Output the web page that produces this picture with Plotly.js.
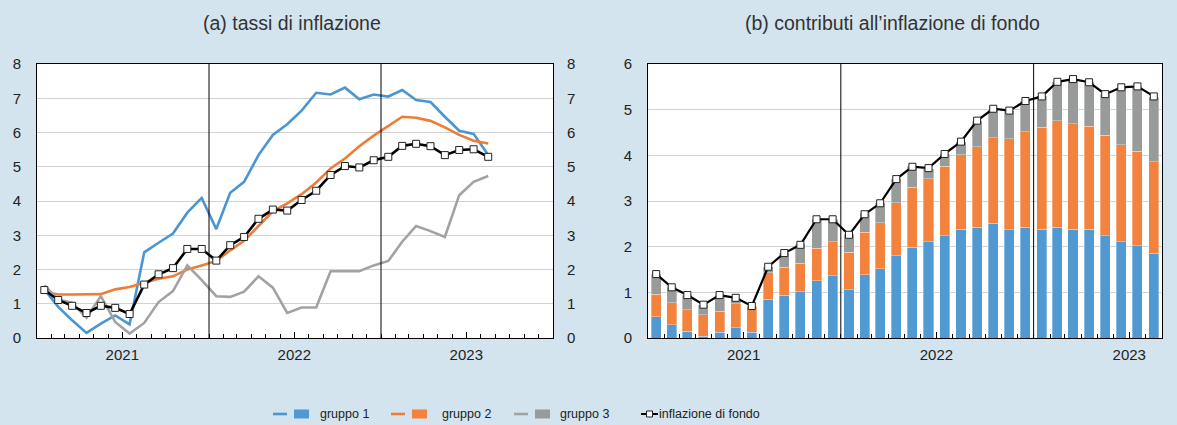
<!DOCTYPE html>
<html>
<head>
<meta charset="utf-8">
<script src="https://cdn.plot.ly/plotly-3.0.1.min.js"></script>
<style>
html,body{margin:0;padding:0;background:#d3e4ee;}
#chart{width:1177px;height:425px;}
</style>
</head>
<body>
<div id="chart"></div>
<script>
// ---- data ----
const months = ['2021-01','2021-02','2021-03','2021-04','2021-05','2021-06','2021-07','2021-08','2021-09','2021-10','2021-11','2021-12',
                '2022-01','2022-02','2022-03','2022-04','2022-05','2022-06','2022-07','2022-08','2022-09','2022-10','2022-11','2022-12',
                '2023-01','2023-02','2023-03','2023-04','2023-05','2023-06','2023-07','2023-08'];
const yearTicks = ['2021-07-01','2022-07-01','2023-07-01'];
const yearLabels = ['2021','2022','2023'];

// panel (a): inflation rates
const rateG1 = [1.42,0.91,0.52,0.15,0.42,0.66,0.40,2.50,2.78,3.05,3.66,4.09,3.18,4.24,4.56,5.34,5.93,6.24,6.64,7.16,7.11,7.31,6.97,7.11,7.05,7.24,6.95,6.89,6.46,6.05,5.96,5.34];
const rateG2 = [1.35,1.27,1.27,1.27,1.28,1.42,1.49,1.61,1.73,1.80,2.00,2.12,2.25,2.56,2.84,3.27,3.70,3.93,4.20,4.54,4.95,5.24,5.60,5.91,6.19,6.46,6.43,6.34,6.15,5.93,5.76,5.68];
const rateG3 = [1.54,1.12,1.03,0.59,1.22,0.47,0.13,0.44,1.05,1.37,2.12,1.69,1.22,1.20,1.35,1.80,1.47,0.73,0.89,0.89,1.95,1.95,1.95,2.12,2.25,2.81,3.27,3.12,2.95,4.17,4.56,4.73];
const coreInfl = [1.40,1.11,0.94,0.73,0.94,0.88,0.70,1.56,1.86,2.04,2.60,2.60,2.26,2.71,2.95,3.48,3.75,3.72,4.03,4.30,4.76,5.02,4.98,5.19,5.29,5.61,5.67,5.60,5.34,5.49,5.51,5.29];

// panel (b): contributions to core inflation
const contribG1 = [0.46,0.29,0.15,0.04,0.13,0.23,0.13,0.85,0.94,1.01,1.25,1.36,1.06,1.38,1.52,1.80,1.99,2.11,2.24,2.38,2.42,2.51,2.37,2.43,2.38,2.43,2.38,2.38,2.24,2.11,2.02,1.86];
const contribG2 = [0.50,0.48,0.47,0.47,0.46,0.52,0.55,0.58,0.61,0.63,0.71,0.75,0.82,0.94,1.00,1.16,1.31,1.38,1.52,1.63,1.77,1.88,1.99,2.09,2.23,2.33,2.31,2.26,2.20,2.12,2.07,2.00];
const contribG3 = [0.44,0.34,0.32,0.22,0.35,0.12,0.02,0.13,0.32,0.41,0.64,0.49,0.39,0.41,0.44,0.53,0.46,0.22,0.27,0.29,0.56,0.62,0.62,0.67,0.69,0.85,0.98,0.96,0.90,1.25,1.40,1.41];

const names = ['gruppo 1','gruppo 2','gruppo 3','inflazione di fondo'];
const lineColors = ['#4a96d2','#f07b35','#a2a2a2'];
const barColors = ['#5099d3','#f2823c','#999b9b'];

// ---- figure ----
const W = 1177, H = 425;
const px = x => x / W;
const py = y => 1 - y / H;
const FONT = 'Liberation Sans, Arial, sans-serif';

const common = {xperiod:'M1', xperiodalignment:'middle', showlegend:false, hoverinfo:'skip'};

const traces = [];
[rateG1, rateG2, rateG3].forEach((v, k) => {
  traces.push(Object.assign({type:'scatter', mode:'lines', x:months, y:v, name:names[k],
    xaxis:'x', yaxis:'y', line:{color:lineColors[k], width:2.6}}, common));
});
traces.push(Object.assign({type:'scatter', mode:'lines+markers', x:months, y:coreInfl, name:names[3],
  xaxis:'x', yaxis:'y', line:{color:'#000', width:2.6},
  marker:{symbol:'square', size:7, color:'#fff', line:{color:'#222', width:1}}}, common));

const barW = 19 * 86400000;
[contribG1, contribG2, contribG3].forEach((v, k) => {
  traces.push(Object.assign({type:'bar', x:months, y:v, name:names[k], xaxis:'x2', yaxis:'y2',
    width:barW, marker:{color:barColors[k], line:{color:'rgba(255,255,255,0.55)', width:0.6}}}, common));
});
traces.push(Object.assign({type:'scatter', mode:'lines+markers', x:months, y:coreInfl, name:names[3],
  xaxis:'x2', yaxis:'y2', line:{color:'#000', width:2.2},
  marker:{symbol:'square', size:7, color:'#fff', line:{color:'#222', width:1}}}, common));

const tickFont = {family:FONT, size:15, color:'#222'};
const xBase = {
  type:'date', tickvals:yearTicks, ticktext:yearLabels, ticks:'inside', ticklen:6, tickcolor:'#000', tickwidth:1,
  minor:{dtick:'M1', tick0:'2021-01-01', ticks:'inside', ticklen:4, tickcolor:'#000', tickwidth:1, showgrid:false},
  showline:true, linecolor:'#000', linewidth:1, mirror:true, showgrid:false, zeroline:false,
  tickfont:tickFont, ticklabelstandoff:3, fixedrange:true
};
const yBase = {
  dtick:1, showgrid:true, gridcolor:'#d2d2d2', gridwidth:1, zeroline:false,
  showline:true, linecolor:'#000', linewidth:1, mirror:true, ticks:'', tickfont:tickFont,
  ticklabelstandoff:12, fixedrange:true
};
const yDom = [py(338), py(64)];

const shapes = [];
['2022-01-01','2023-01-01'].forEach(d => {
  shapes.push({type:'line', xref:'x', yref:'y domain', x0:d, x1:d, y0:0, y1:1, line:{color:'#000', width:1}});
  shapes.push({type:'line', xref:'x2', yref:'y2 domain', x0:d, x1:d, y0:0, y1:1, line:{color:'#000', width:1}});
});

const titleFont = {family:FONT, size:19.5, color:'#333'};
const annotations = [
  {text:'(a) tassi di inflazione', xref:'paper', yref:'paper', x:px(292), y:py(23), showarrow:false,
   font:titleFont, xanchor:'center', yanchor:'middle'},
  {text:'(b) contributi all\u2019inflazione di fondo', xref:'paper', yref:'paper', x:px(892.5), y:py(23), showarrow:false,
   font:titleFont, xanchor:'center', yanchor:'middle'}
];
// legend (drawn manually in paper coordinates)
const legY = 414;
const legFont = {family:FONT, size:12.5, color:'#222'};
const legItems = [
  {lx:273, rx:294, tx:318},
  {lx:391, rx:412, tx:440},
  {lx:514, rx:535, tx:558}
];
legItems.forEach((it, k) => {
  shapes.push({type:'line', xref:'paper', yref:'paper', x0:px(it.lx), x1:px(it.lx+14), y0:py(legY), y1:py(legY),
    line:{color:lineColors[k], width:2.6}});
  shapes.push({type:'rect', xref:'paper', yref:'paper', x0:px(it.rx), x1:px(it.rx+15), y0:py(legY+4.5), y1:py(legY-4.5),
    line:{width:0}, fillcolor:barColors[k]});
  annotations.push({text:names[k], xref:'paper', yref:'paper', x:px(it.tx), y:py(legY), showarrow:false,
    xanchor:'left', yanchor:'middle', font:legFont});
});
shapes.push({type:'line', xref:'paper', yref:'paper', x0:px(641), x1:px(658), y0:py(legY), y1:py(legY), line:{color:'#000', width:2}});
shapes.push({type:'rect', xref:'paper', yref:'paper', x0:px(646.5), x1:px(652.5), y0:py(legY+3), y1:py(legY-3),
  line:{color:'#222', width:1}, fillcolor:'#fff'});
annotations.push({text:names[3], xref:'paper', yref:'paper', x:px(657), y:py(legY), showarrow:false,
  xanchor:'left', yanchor:'middle', font:legFont});

const layout = {
  width:W, height:H, margin:{l:0, r:0, t:0, b:0},
  paper_bgcolor:'#d3e4ee', plot_bgcolor:'#ffffff',
  font:{family:FONT, color:'#222'},
  showlegend:false, barmode:'stack', bargap:0.4,
  xaxis:Object.assign({}, xBase, {domain:[px(37), px(553)], anchor:'y', range:['2021-01-01','2024-01-01']}),
  yaxis:Object.assign({}, yBase, {domain:yDom, anchor:'x', range:[0,8]}),
  yaxis3:Object.assign({}, yBase, {overlaying:'y', side:'right', anchor:'x', range:[0,8], showgrid:false, ticklabelstandoff:10}),
  xaxis2:Object.assign({}, xBase, {domain:[px(648), px(1162)], anchor:'y2', range:['2021-01-01','2023-09-01']}),
  yaxis2:Object.assign({}, yBase, {domain:yDom, anchor:'x2', range:[0,6]}),
  shapes:shapes, annotations:annotations
};
// invisible trace so the right-hand axis of panel (a) is drawn
traces.push({type:'scatter', mode:'markers', x:[months[0]], y:[0], xaxis:'x', yaxis:'y3', opacity:0, showlegend:false, hoverinfo:'skip'});

Plotly.newPlot('chart', traces, layout, {displayModeBar:false, staticPlot:true});
</script>
</body>
</html>
